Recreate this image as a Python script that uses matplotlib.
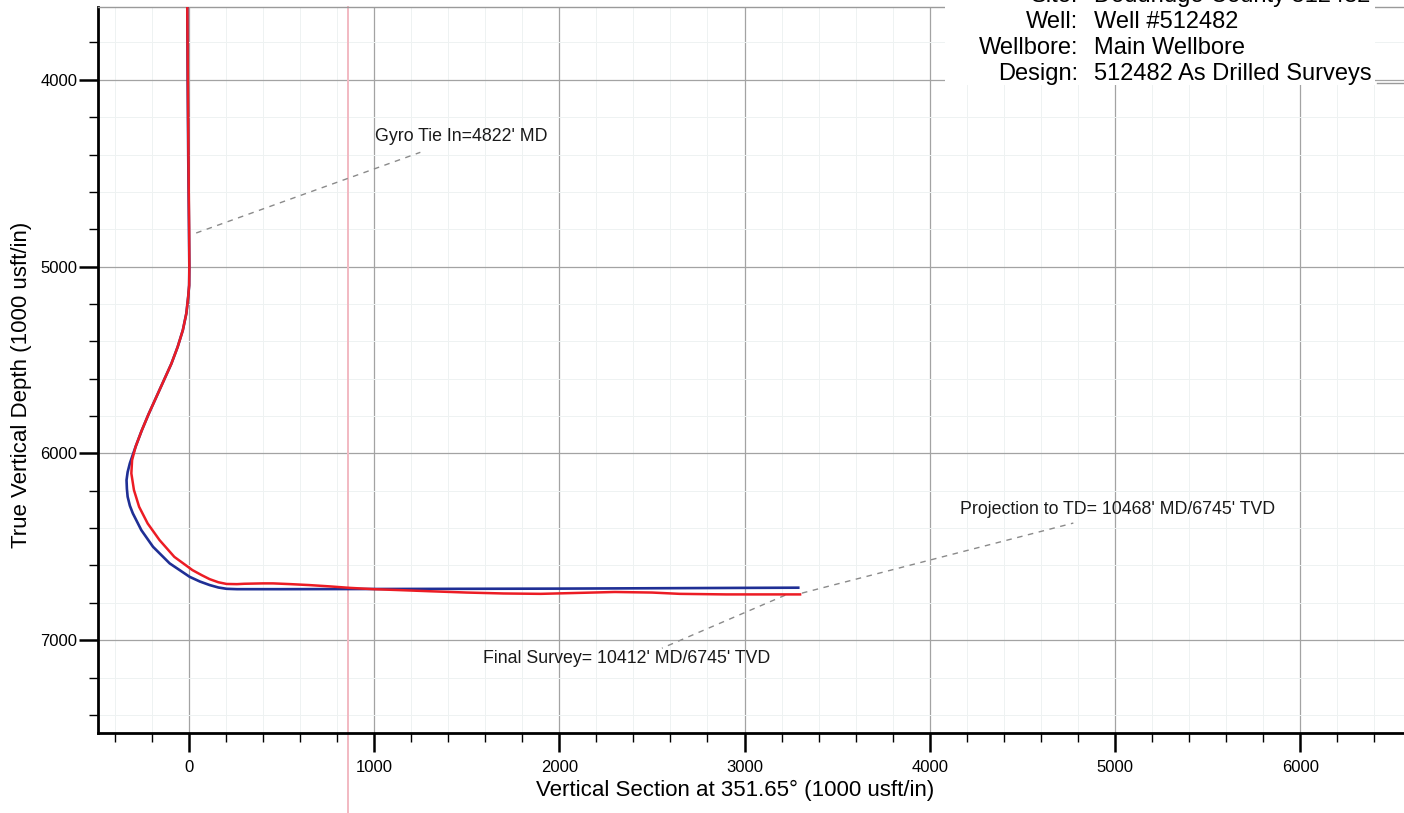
import matplotlib
matplotlib.use('Agg')
import matplotlib.pyplot as plt
from matplotlib.lines import Line2D
from matplotlib.patches import Rectangle
import numpy as np

plt.rcParams['font.family'] = ['Liberation Sans', 'DejaVu Sans']

# planned path (blue), vertical section vs TVD
plan_vs = [-8, -6, -3, 1, 3, 2, -3, -13, -32, -60, -94, -135, -176, -217, -255, -287,
           -318, -330, -336, -334, -330, -318, -302, -256, -193, -103, 5, 60, 113,
           160, 204, 260, 300, 500, 1000, 1500, 2000, 2500, 3000, 3290]
plan_tvd = [3600, 4000, 4400, 4800, 5000, 5100, 5160, 5250, 5340, 5430, 5520, 5610,
            5700, 5790, 5880, 5964, 6053, 6100, 6143, 6190, 6232, 6280, 6321, 6411,
            6500, 6589, 6661, 6686, 6705, 6718, 6725, 6727, 6727, 6727, 6726, 6725,
            6724, 6722, 6720, 6719]

# as drilled surveys (red)
surv_vs = [-8, -5, -2, 2, 3, 2, -3, -13, -32, -60, -94, -135, -176, -217, -255, -287,
           -306, -310, -296, -268, -222, -158, -78, 20, 70, 112, 160, 204, 260, 300,
           400, 455, 550, 650, 760, 870, 1000, 1140, 1300, 1500, 1700, 1900, 2100,
           2300, 2500, 2650, 2900, 3300]
surv_tvd = [3600, 4000, 4400, 4800, 5000, 5100, 5160, 5250, 5340, 5430, 5520, 5610,
            5700, 5790, 5880, 5964, 6036, 6107, 6196, 6286, 6375, 6464, 6554, 6625,
            6652, 6673, 6690, 6699, 6700, 6698, 6696, 6696, 6700, 6705, 6712, 6720,
            6727, 6732, 6738, 6745, 6750, 6752, 6747, 6742, 6745, 6752, 6755, 6755]

# annotation leaders: (vs, tvd) start -> end, label position
gyro_line = ([40, 1250], [4820, 4388])
gyro_label = (1005, 4305, "Gyro Tie In=4822' MD")
proj_line = ([3310, 4775], [6748, 6373])
proj_label = (4163, 6298, "Projection to TD= 10468' MD/6745' TVD")
final_line = ([3220, 2554], [6759, 7043])
final_label = (1588, 7096, "Final Survey= 10412' MD/6745' TVD")

title_keys = ['Site:', 'Well:', 'Wellbore:', 'Design:']
title_vals = ['Doddridge County 512482', 'Well #512482', 'Main Wellbore',
              '512482 As Drilled Surveys']

W, H = 1404, 813
fig = plt.figure(figsize=(W / 100, H / 100), dpi=100)
ax = fig.add_axes([98 / W, 1 - 733 / H, 1 - 98 / W, (733 - 7) / H])

ax.set_xlim(-490, 6560)
ax.set_ylim(7497, 3610)

ax.set_xticks(np.arange(0, 7000, 1000))
ax.set_xticks(np.arange(-400, 6600, 200), minor=True)
ax.set_yticks(np.arange(4000, 8000, 1000))
ax.set_yticks(np.arange(3800, 7500, 200), minor=True)

ax.grid(which='major', color='#a3a3a3', lw=0.9)
ax.grid(which='minor', color='#eef2f2', lw=0.7)
ax.set_axisbelow(True)

ax.tick_params(which='major', length=13.5, width=1.8, labelsize=12)
ax.tick_params(axis='x', which='major', pad=6)
ax.tick_params(axis='y', which='major', pad=1.5)
ax.tick_params(which='minor', length=6.5, width=1.0)

for s in ['left', 'bottom']:
    ax.spines[s].set_linewidth(2)
ax.spines['top'].set_color('#9a9a9a')
ax.spines['top'].set_linewidth(1)
ax.spines['right'].set_visible(False)

# scan artefact: pink vertical stripe
ax.axvline(860, ymin=-0.115, ymax=1, color='#f2b9c2', lw=1.4, clip_on=False, zorder=1)

ax.plot(plan_vs, plan_tvd, color='#1f2f95', lw=1.9, zorder=3)
ax.plot(surv_vs, surv_tvd, color='#ec1c24', lw=1.8, zorder=4)

for (xs, ys), (tx, ty, txt) in [(gyro_line, gyro_label), (proj_line, proj_label),
                                 (final_line, final_label)]:
    ax.plot(xs, ys, color='#8a8a8a', lw=1.0, ls=(0, (4, 4)), zorder=2)
    ax.text(tx, ty, txt, ha='left', va='center', fontsize=12.8, color='#1a1a1a')

ax.set_xlabel('Vertical Section at 351.65\u00b0 (1000 usft/in)', fontsize=16)
ax.xaxis.set_label_coords(0.488, -0.064)
ax.set_ylabel('True Vertical Depth (1000 usft/in)', fontsize=16)
ax.yaxis.set_label_coords(-0.0505, 0.479)

# title block
fig.add_artist(Rectangle((945 / W, 1 - 85 / H), 430 / W, 85 / H, transform=fig.transFigure,
                         facecolor='white', edgecolor='none', zorder=2))
fig.add_artist(Line2D([1377 / W, 1], [1 - 83 / H, 1 - 83 / H], transform=fig.transFigure,
                      color='#9a9a9a', lw=1, zorder=3))
for i, (k, v) in enumerate(zip(title_keys, title_vals)):
    y = 1 - (2 + 26 * i) / H
    fig.text(1078 / W, y, k, ha='right', va='baseline', fontsize=17, zorder=4)
    fig.text(1094 / W, y, v, ha='left', va='baseline', fontsize=17, zorder=4)

fig.savefig('out.png', dpi=100)
